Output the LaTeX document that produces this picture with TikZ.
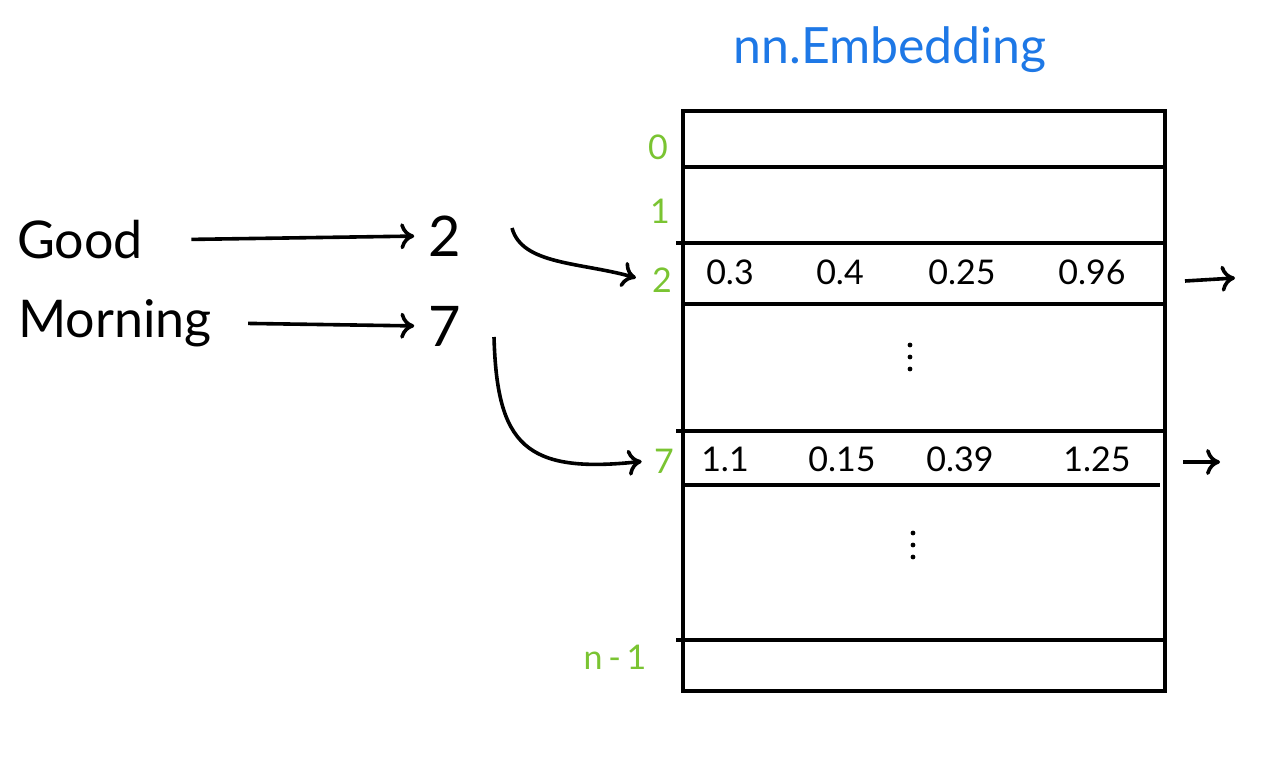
\documentclass[tikz,border=0pt]{standalone}
\usepackage{fontspec}
\setmainfont{Lato}
\usetikzlibrary{arrows.meta}
\definecolor{cgreen}{RGB}{122,196,50}
\definecolor{cblue}{RGB}{30,120,230}
\tikzset{embfig/.style={x=0.5pt,y=-0.5pt,line width=1.8pt,
    >={To[length=7pt,width=13pt]}},
  word/.style={font=\fontsize{26}{30}\selectfont},
  tok/.style={font=\fontsize{28}{32}\selectfont},
  idx/.style={text=cgreen,font=\fontsize{17}{20}\selectfont},
  val/.style={font=\fontsize{17}{20}\selectfont}}

\begin{document}
\begin{tikzpicture}[embfig]
    \useasboundingbox (0,0) rectangle (1280,781);
    \node[cblue,font=\fontsize{25}{30}\selectfont] (title) at (890,50) {nn.Embedding};
    % table
    \draw (683,111) rectangle (1165,691);
    \foreach \y in {167,304} \draw (683,\y) -- (1165,\y);
    \foreach \y in {243,431,640} \draw (676,\y) -- (1165,\y);
    \draw (683,485) -- (1160,485);
    \node[idx] (id0) at (658,147) {0};
    \node[idx] (id1) at (660,211) {1};
    \node[idx] (id2) at (662,280) {2};
    \node[idx] (id7) at (664,461) {7};
    \node[idx] (idn) at (615,657) {n\,-\,1};
    \foreach \v/\x in {0.3/730,0.4/840,0.25/962,0.96/1092}
      \node[val] at (\x,272) {\v};
    \foreach \v/\x in {1.1/725,0.15/842,0.39/960,1.25/1097}
      \node[val] at (\x,459) {\v};
    \foreach \d in {-12,0,12} {
      \fill (910,357+\d) circle (1.2pt);
      \fill (913,545+\d) circle (1.2pt);
    }
    % tokens
    \node[word] (good) at (80,240) {Good};
    \node[word] (morning) at (115,323) {Morning};
    \node[tok] (tok2) at (445,236) {2};
    \node[tok] (tok7) at (445,326) {7};
    \draw[->,shorten <=20pt,shorten >=3pt] (good.east) -- (tok2.west);
    \draw[->,shorten <=14pt,shorten >=3pt] (morning.east) -- (tok7.west);
    \coordinate (s2) at (512,228);
    \coordinate (s7) at (494,337);
    \draw[->,shorten >=4pt] (s2) .. controls (522,265) and (580,262) .. (id2.west);
    \draw[->,shorten >=2pt] (s7) .. controls (497,445) and (525,474) .. (id7.west);
    % outputs
    \coordinate (o2) at (1185,281);
    \coordinate (o7) at (1183,462);
    \draw[->] (o2) -- ++(50,-3);
    \draw[->] (o7) -- ++(37,0);
\end{tikzpicture}
\end{document}
